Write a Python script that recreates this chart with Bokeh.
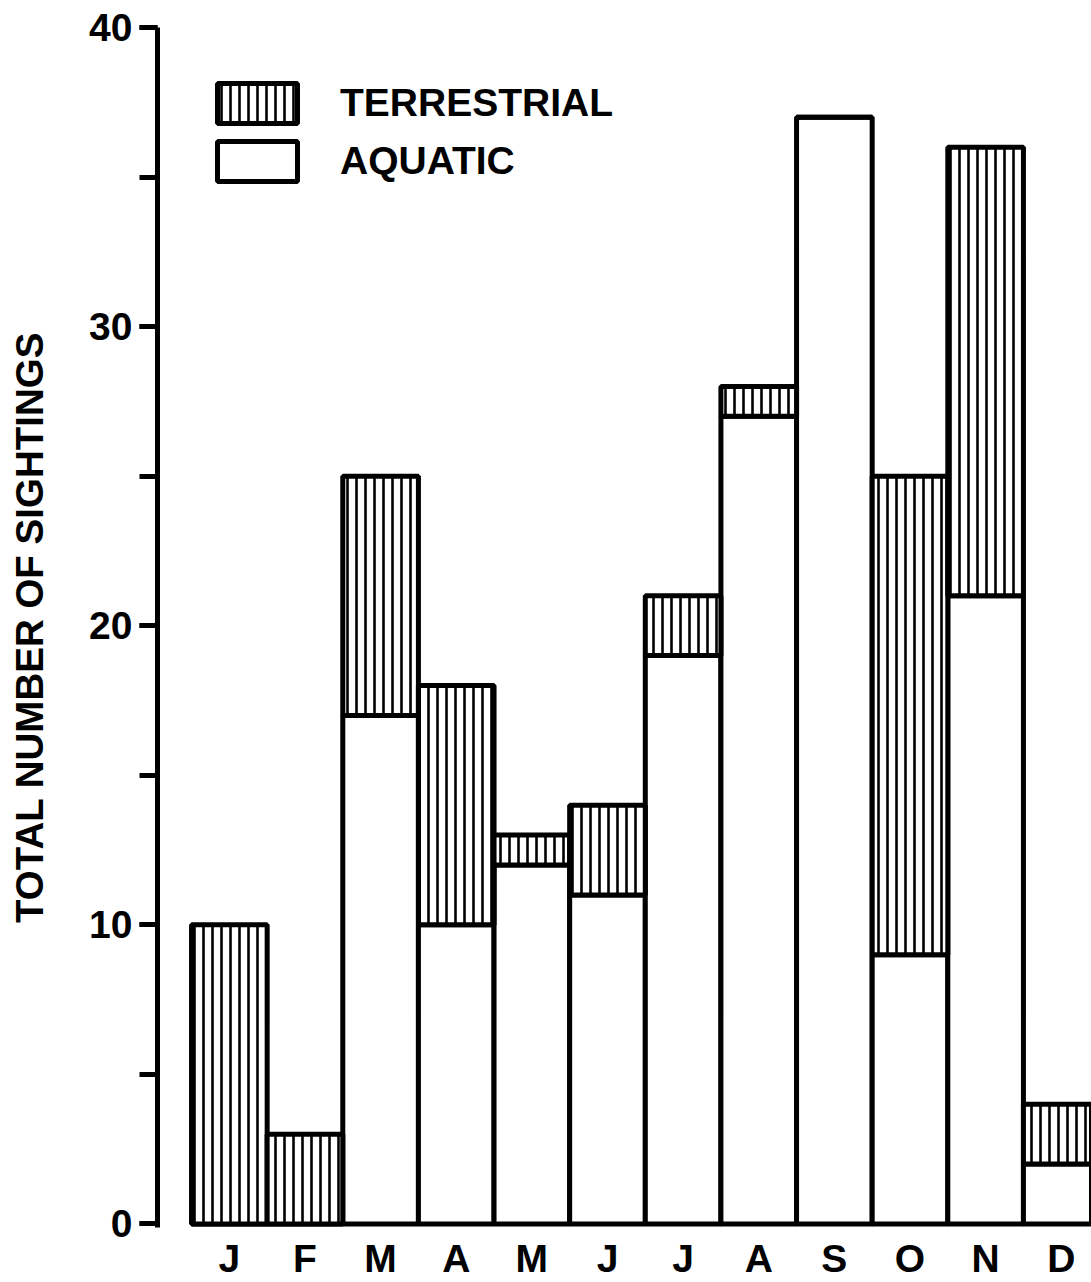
from bokeh.plotting import figure
from bokeh.models import Legend, LegendItem, SingleIntervalTicker, FixedTicker
from bokeh.embed import file_html
from bokeh.resources import INLINE

# ---- data ----
months = ["J", "F", "M", "A", "M", "J", "J", "A", "S", "O", "N", "D"]
aquatic = [0, 0, 17, 10, 12, 11, 19, 27, 37, 9, 21, 2]
terrestrial = [10, 3, 8, 8, 1, 3, 2, 1, 0, 16, 15, 2]
y_ticks_interval = 10

x = list(range(1, len(months) + 1))
total = [a + t for a, t in zip(aquatic, terrestrial)]

FONT = "Liberation Sans"
FS = "39px"

p = figure(frame_width=934, frame_height=1200,
           x_range=(0.05, 12.40), y_range=(-0.12, 40),
           output_backend="svg", toolbar_location=None,
           min_border_left=157, min_border_top=27,
           min_border_right=0, min_border_bottom=0,
           background_fill_color="white", border_fill_color="white")
p.outline_line_color = None
p.xgrid.visible = False
p.ygrid.visible = False

r_a = p.vbar(x=x, bottom=0, top=aquatic, width=1,
             fill_color="white", line_color="black", line_width=5)
r_t = p.vbar(x=x, bottom=aquatic, top=total, width=1,
             fill_color="white", hatch_pattern="vertical_line",
             hatch_scale=9, hatch_weight=2.6, hatch_color="black",
             line_color="black", line_width=5)

# y axis
ya = p.yaxis[0]
ya.ticker = SingleIntervalTicker(interval=y_ticks_interval, num_minor_ticks=2)
ya.axis_line_width = 5
ya.major_tick_line_width = 5
ya.major_tick_out = 18
ya.major_tick_in = 0
ya.minor_tick_out = 18
ya.minor_tick_in = 0
ya.minor_tick_line_width = 5
ya.major_label_standoff = 7
ya.major_label_text_font = FONT
ya.major_label_text_font_size = FS
ya.major_label_text_font_style = "bold"
ya.major_label_text_color = "black"
ya.axis_label = "TOTAL NUMBER OF SIGHTINGS"
ya.axis_label_text_font = FONT
ya.axis_label_text_font_size = "38.5px"
ya.axis_label_text_font_style = "bold"
ya.axis_label_text_color = "black"
ya.axis_label_standoff = 35

# x axis
xa = p.xaxis[0]
xa.ticker = FixedTicker(ticks=x)
xa.major_label_overrides = {i: m for i, m in zip(x, months)}
xa.axis_line_color = None
xa.major_tick_line_color = None
xa.minor_tick_line_color = None
xa.major_label_standoff = 3
xa.major_label_text_font = FONT
xa.major_label_text_font_size = FS
xa.major_label_text_font_style = "bold"
xa.major_label_text_color = "black"

legend = Legend(items=[LegendItem(label="TERRESTRIAL", renderers=[r_t]),
                       LegendItem(label="AQUATIC", renderers=[r_a])],
                location=(50, 1041), glyph_width=100, glyph_height=50,
                spacing=8, label_standoff=33, padding=0, margin=0,
                border_line_color=None, background_fill_alpha=0,
                label_text_font=FONT, label_text_font_size=FS,
                label_text_font_style="bold", label_text_color="black")
p.add_layout(legend)

open("out.html", "w").write(file_html(p, INLINE))
